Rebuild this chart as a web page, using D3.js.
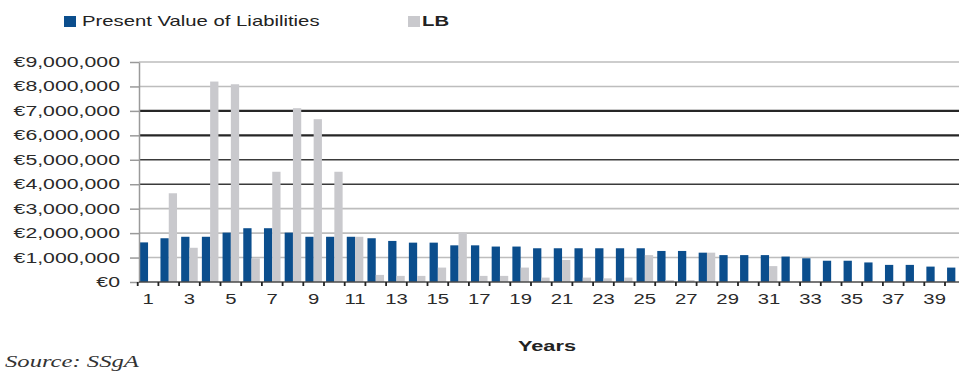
<!DOCTYPE html>
<html>
<head>
<meta charset="utf-8">
<script src="https://cdn.jsdelivr.net/npm/d3@7"></script>
<style>
  body { margin: 0; background: #fff; }
  svg { display: block; font-family: "Liberation Sans", Arial, sans-serif; }
</style>
</head>
<body>
<div id="chart"></div>
<script>
// categories and series
const years = [1, 2, 3, 4, 5, 6, 7, 8, 9, 10, 11, 12, 13, 14, 15, 16, 17, 18, 19, 20,
               21, 22, 23, 24, 25, 26, 27, 28, 29, 30, 31, 32, 33, 34, 35, 36, 37, 38, 39, 40];
const pvLiabilities = [1620000, 1790000, 1850000, 1850000, 2020000, 2200000, 2200000, 2020000, 1850000, 1850000,
                       1850000, 1790000, 1680000, 1610000, 1610000, 1500000, 1500000, 1450000, 1450000, 1380000,
                       1380000, 1380000, 1380000, 1380000, 1380000, 1270000, 1270000, 1200000, 1100000, 1100000,
                       1100000, 1040000, 970000, 870000, 870000, 800000, 700000, 700000, 630000, 590000];
const lb = [0, 3630000, 1400000, 8200000, 8090000, 970000, 4510000, 7110000, 6660000, 4510000,
            1850000, 290000, 250000, 250000, 590000, 2020000, 250000, 250000, 590000, 180000,
            900000, 180000, 150000, 180000, 1100000, 80000, 80000, 1200000, 0, 0,
            650000, 0, 0, 0, 0, 0, 0, 0, 0, 0];
const yTicks = [0, 1000000, 2000000, 3000000, 4000000, 5000000, 6000000, 7000000, 8000000, 9000000];
const xTickLabels = [1, 3, 5, 7, 9, 11, 13, 15, 17, 19, 21, 23, 25, 27, 29, 31, 33, 35, 37, 39];
const seriesNames = ["Present Value of Liabilities", "LB"];

const width = 959, height = 374;
const x0 = 137.7, x1 = 965.7, yTop = 62, yBottom = 282;
const sx = 1.45; // the source image is stretched sideways
const blue = "#0b4e8d", grey = "#c9c9cd";

// grid line look per value (the scan shows darker lines in the middle)
const gridStyle = (d) => {
    if (d === 7000000 || d === 6000000) return ["#262626", 2.4];
    if (d === 5000000 || d === 4000000) return ["#3a3a3a", 1.6];
    return ["#bdbdbd", 1.6];
};

const svg = d3.select("#chart").append("svg")
    .attr("width", width)
    .attr("height", height);

const xScale = d3.scaleBand().domain(years).range([x0, x1]).padding(0);
const inner = d3.scaleBand().domain(["pv", "lb"]).range([0, xScale.bandwidth()]).paddingInner(0).paddingOuter(0.25);
const yScale = d3.scaleLinear().domain([0, 9000000]).range([yBottom, yTop]);

// grid
svg.append("g")
    .selectAll("line")
    .data(yTicks.filter(d => d > 0))
    .join("line")
    .attr("x1", 139).attr("x2", width)
    .attr("y1", d => yScale(d)).attr("y2", d => yScale(d))
    .attr("stroke", d => gridStyle(d)[0])
    .attr("stroke-width", d => gridStyle(d)[1]);

// bars
const rows = years.map((yr, i) => ({ year: yr, pv: pvLiabilities[i], lb: lb[i] }));
const groups = svg.append("g")
    .selectAll("g")
    .data(rows)
    .join("g")
    .attr("transform", d => `translate(${xScale(d.year)},0)`);

groups.append("rect")
    .attr("x", inner("pv"))
    .attr("width", inner.bandwidth())
    .attr("y", d => yScale(d.pv))
    .attr("height", d => yBottom - yScale(d.pv))
    .attr("fill", blue);

groups.append("rect")
    .attr("x", inner("lb"))
    .attr("width", inner.bandwidth())
    .attr("y", d => yScale(d.lb))
    .attr("height", d => yBottom - yScale(d.lb))
    .attr("fill", grey);

// y axis
const yAxis = svg.append("g")
    .attr("transform", "translate(139,0)")
    .call(d3.axisLeft(yScale).tickValues(yTicks).tickSize(9).tickSizeOuter(0)
        .tickFormat(d => "€" + d3.format(",")(d)));
yAxis.select(".domain").attr("stroke", "#9a9a9a").attr("stroke-width", 1.5);
yAxis.selectAll(".tick line").attr("stroke", "#9a9a9a").attr("stroke-width", 1.5);
yAxis.selectAll(".tick text")
    .attr("x", null)
    .attr("transform", "translate(-19,0) scale(1.52,1)")
    .attr("font-size", 14)
    .attr("fill", "#2a2a2a");

// x axis: line, ticks at category edges, labels at centres
svg.append("line")
    .attr("x1", 139).attr("x2", width)
    .attr("y1", yBottom).attr("y2", yBottom)
    .attr("stroke", "#4a4a4a").attr("stroke-width", 1.5);

svg.append("g")
    .selectAll("line")
    .data(years)
    .join("line")
    .attr("x1", d => xScale(d)).attr("x2", d => xScale(d))
    .attr("y1", yBottom).attr("y2", yBottom + 4)
    .attr("stroke", "#222").attr("stroke-width", 1.8);

const xAxis = svg.append("g")
    .attr("transform", `translate(0,${yBottom})`)
    .call(d3.axisBottom(xScale).tickValues(xTickLabels).tickSize(0).tickPadding(12));
xAxis.select(".domain").remove();
xAxis.selectAll(".tick text")
    .attr("transform", `scale(${sx},1)`)
    .attr("font-size", 14)
    .attr("fill", "#2a2a2a");

// axis title
svg.append("text")
    .attr("transform", `translate(547,351) scale(${sx},1)`)
    .attr("text-anchor", "middle")
    .attr("font-size", 15)
    .attr("font-weight", "bold")
    .attr("fill", "#222")
    .text("Years");

// legend
const legendPos = [[64, 82], [408, 422]];
const legendCol = [blue, grey];
seriesNames.forEach((name, i) => {
    svg.append("rect")
        .attr("x", legendPos[i][0]).attr("y", 16)
        .attr("width", 12).attr("height", 11)
        .attr("fill", legendCol[i]);
    svg.append("text")
        .attr("transform", `translate(${legendPos[i][1]},26) scale(${sx},1)`)
        .attr("font-size", 14)
        .attr("font-weight", i === 1 ? "bold" : "normal")
        .attr("fill", "#222")
        .text(name);
});

// source note
svg.append("text")
    .attr("transform", `translate(5,367) scale(${sx},1)`)
    .attr("font-family", "'Liberation Serif', 'Times New Roman', serif")
    .attr("font-style", "italic")
    .attr("font-size", 17)
    .attr("fill", "#333")
    .text("Source: SSgA");
</script>
</body>
</html>
